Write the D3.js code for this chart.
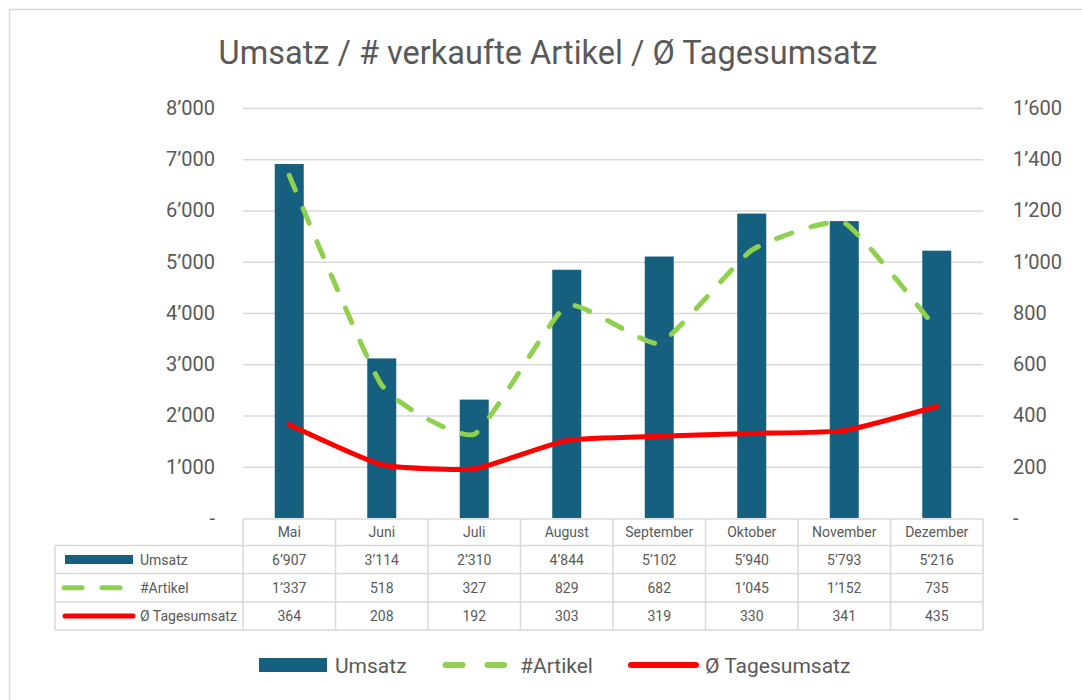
<!DOCTYPE html>
<html>
<head>
<meta charset="utf-8">
<script src="https://cdn.jsdelivr.net/npm/d3@7"></script>
<style>
  body { margin: 0; background: #fff; }
  text { font-family: Roboto, "Liberation Sans", sans-serif; fill: #595959; }
</style>
</head>
<body>
<div id="chart"></div>
<script>
// Umsatz / Artikel / Tagesumsatz combo chart with data table

const months = ["Mai", "Juni", "Juli", "August", "September", "Oktober", "November", "Dezember"];
const umsatz = [6907, 3114, 2310, 4844, 5102, 5940, 5793, 5216];
const artikel = [1337, 518, 327, 829, 682, 1045, 1152, 735];
const tagesumsatz = [364, 208, 192, 303, 319, 330, 341, 435];
const leftTicks = [0, 1000, 2000, 3000, 4000, 5000, 6000, 7000, 8000];
const rightTicks = [0, 200, 400, 600, 800, 1000, 1200, 1400, 1600];

const width = 1082, height = 700,
    margin = ({ top: 108, right: 99, bottom: 182, left: 243 });

const barColor = "#16607f", greenColor = "#8fd14f", redColor = "#ff0000", gridColor = "#d9d9d9";

const loc = d3.formatLocale({ decimal: ".", thousands: "\u2019", grouping: [3], currency: ["", ""] });
const fmt = v => v === 0 ? "-" : loc.format(",")(v);

let data = months.map((m, i) => ({ month: m, umsatz: umsatz[i], artikel: artikel[i], tages: tagesumsatz[i] }));

let svg = d3.select("#chart").append("svg")
    .attr("width", width).attr("height", height);

// outer frame
svg.append("rect")
    .attr("x", 9.5).attr("y", 9.5)
    .attr("width", width + 20).attr("height", height + 20)
    .attr("fill", "none").attr("stroke", gridColor).attr("stroke-width", 1.5);

let x = d3.scaleBand()
    .domain(months)
    .range([margin.left, width - margin.right]);

let y = d3.scaleLinear()
    .domain([0, 8000])
    .range([height - margin.bottom, margin.top]);

let y2 = d3.scaleLinear()
    .domain([0, 1600])
    .range([height - margin.bottom, margin.top]);

svg.append("text")
    .attr("x", 548).attr("y", 64)
    .attr("text-anchor", "middle")
    .attr("font-size", 32.5)
    .text("Umsatz / # verkaufte Artikel / Ø Tagesumsatz");

// gridlines + left axis
let yAxis = svg.append("g")
    .attr("transform", `translate(${margin.left},0)`)
    .call(d3.axisLeft(y).tickValues(leftTicks).tickFormat(fmt)
        .tickSize(-(width - margin.left - margin.right)).tickPadding(28));
yAxis.select(".domain").remove();
yAxis.selectAll("line").attr("stroke", gridColor).attr("stroke-width", 1.5)
    .filter(d => d === 0).remove();
yAxis.selectAll("text").attr("font-size", 20).attr("fill", "#595959")
    .attr("font-family", "Roboto, sans-serif");

let y2Axis = svg.append("g")
    .attr("transform", `translate(${width - margin.right},0)`)
    .call(d3.axisRight(y2).tickValues(rightTicks).tickFormat(fmt).tickSize(0).tickPadding(30));
y2Axis.select(".domain").remove();
y2Axis.selectAll("text").attr("font-size", 20).attr("fill", "#595959")
    .attr("font-family", "Roboto, sans-serif");

// bars
let barW = 29;
svg.append("g").selectAll("rect")
    .data(data)
    .join("rect")
    .attr("x", d => x(d.month) + x.bandwidth() / 2 - barW / 2)
    .attr("y", d => y(d.umsatz))
    .attr("width", barW)
    .attr("height", d => y(0) - y(d.umsatz))
    .attr("fill", barColor);

let cx = d => x(d.month) + x.bandwidth() / 2;

// smoothed lines, milder than catmull-rom like excel
let lineArtikel = d3.line()
    .x(cx).y(d => y2(d.artikel))
    .curve(d3.curveCardinal.tension(0.55));

let lineTages = d3.line()
    .x(cx).y(d => y2(d.tages))
    .curve(d3.curveCardinal.tension(0.55));

svg.append("path").datum(data)
    .attr("d", lineTages)
    .attr("fill", "none").attr("stroke", redColor)
    .attr("stroke-width", 5).attr("stroke-linecap", "round").attr("stroke-linejoin", "round");

svg.append("path").datum(data)
    .attr("d", lineArtikel)
    .attr("fill", "none").attr("stroke", greenColor)
    .attr("stroke-width", 5).attr("stroke-linecap", "round")
    .attr("stroke-dasharray", "16 20");

// data table
const rowTop = [519, 545.5, 573.5, 602, 630];
const tableLeft = 55, tableRight = width - margin.right;
let table = svg.append("g").attr("stroke", gridColor).attr("stroke-width", 1.5);

// horizontal lines
table.append("line").attr("x1", margin.left).attr("x2", tableRight).attr("y1", rowTop[0]).attr("y2", rowTop[0]);
rowTop.slice(1).forEach(yy => {
    table.append("line").attr("x1", tableLeft).attr("x2", tableRight).attr("y1", yy).attr("y2", yy);
});
// vertical lines
table.append("line").attr("x1", tableLeft).attr("x2", tableLeft).attr("y1", rowTop[1]).attr("y2", rowTop[4]);
months.forEach(m => {
    table.append("line").attr("x1", x(m)).attr("x2", x(m)).attr("y1", rowTop[0]).attr("y2", rowTop[4]);
});
table.append("line").attr("x1", tableRight).attr("x2", tableRight).attr("y1", rowTop[0]).attr("y2", rowTop[4]);

const cellFont = 14;
svg.append("g").selectAll("text")
    .data(months)
    .join("text")
    .attr("x", m => x(m) + x.bandwidth() / 2)
    .attr("y", (rowTop[0] + rowTop[1]) / 2 + 5)
    .attr("text-anchor", "middle").attr("font-size", cellFont)
    .text(m => m);

const rows = [
    { name: "Umsatz", values: umsatz },
    { name: "#Artikel", values: artikel },
    { name: "Ø Tagesumsatz", values: tagesumsatz }
];

rows.forEach((r, ri) => {
    let mid = (rowTop[ri + 1] + rowTop[ri + 2]) / 2;
    svg.append("g").selectAll("text")
        .data(r.values)
        .join("text")
        .attr("x", (v, i) => x(months[i]) + x.bandwidth() / 2)
        .attr("y", mid + 5)
        .attr("text-anchor", "middle").attr("font-size", cellFont)
        .text(v => fmt(v));
    svg.append("text")
        .attr("x", 140).attr("y", mid + 5)
        .attr("font-size", cellFont)
        .text(r.name);
});

// table legend keys
let m1 = (rowTop[1] + rowTop[2]) / 2, m2 = (rowTop[2] + rowTop[3]) / 2, m3 = (rowTop[3] + rowTop[4]) / 2;
svg.append("rect").attr("x", 65).attr("y", m1 - 4.5).attr("width", 68).attr("height", 9).attr("fill", barColor);
svg.append("line").attr("x1", 64).attr("x2", 122).attr("y1", m2).attr("y2", m2)
    .attr("stroke", greenColor).attr("stroke-width", 5).attr("stroke-linecap", "round").attr("stroke-dasharray", "18 20");
svg.append("line").attr("x1", 65).attr("x2", 133).attr("y1", m3).attr("y2", m3)
    .attr("stroke", redColor).attr("stroke-width", 5).attr("stroke-linecap", "round");

// bottom legend
let ly = 665;
let legend = svg.append("g");
legend.append("rect").attr("x", 259).attr("y", ly - 7).attr("width", 68).attr("height", 14).attr("fill", barColor);
legend.append("text").attr("x", 335).attr("y", ly + 8).attr("font-size", 21).text("Umsatz");
legend.append("line").attr("x1", 445.5).attr("x2", 504).attr("y1", ly).attr("y2", ly)
    .attr("stroke", greenColor).attr("stroke-width", 6).attr("stroke-linecap", "round").attr("stroke-dasharray", "17 25");
legend.append("text").attr("x", 520).attr("y", ly + 8).attr("font-size", 21).text("#Artikel");
legend.append("line").attr("x1", 631).attr("x2", 696).attr("y1", ly).attr("y2", ly)
    .attr("stroke", redColor).attr("stroke-width", 6).attr("stroke-linecap", "round");
legend.append("text").attr("x", 705).attr("y", ly + 8).attr("font-size", 21).text("Ø Tagesumsatz");
</script>
</body>
</html>
